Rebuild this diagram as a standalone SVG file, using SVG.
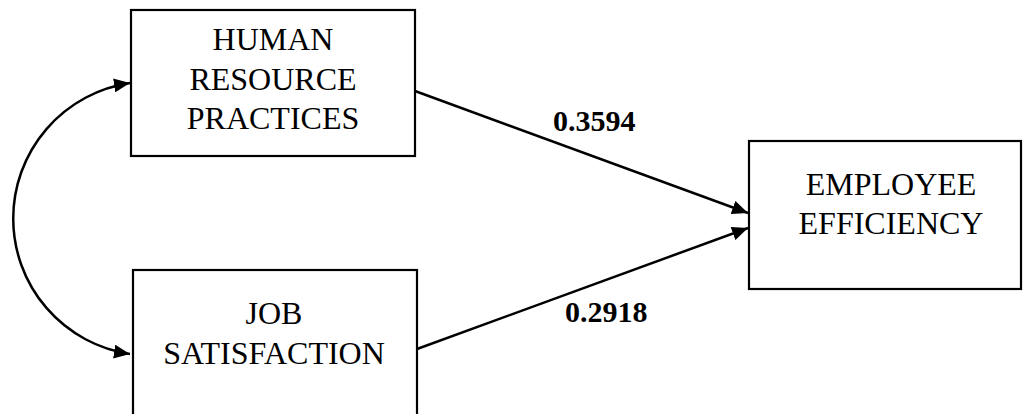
<svg xmlns="http://www.w3.org/2000/svg" width="1023" height="414" viewBox="0 0 1023 414">
  <style>
    .box { fill: #ffffff; stroke: #000000; stroke-width: 2.2; }
    .lbl { font-family: "Liberation Serif", "Times New Roman", serif; font-size: 32px; fill: #000000; text-anchor: middle; }
    .coef { font-family: "Liberation Serif", "Times New Roman", serif; font-size: 30px; font-weight: bold; fill: #000000; }
    .conn { fill: none; stroke: #000000; stroke-width: 2.5; }
  </style>
  <defs>
    <marker id="arrow" markerUnits="userSpaceOnUse" markerWidth="18" markerHeight="14" refX="16" refY="7" orient="auto-start-reverse">
      <path d="M0,0 L16,7 L0,14 z" fill="#000000"/>
    </marker>
  </defs>
  <rect width="1023" height="414" fill="#ffffff"/>

  <g id="connectors">
    <path class="conn" d="M130,83 A137,137 0 0 0 130,354" marker-start="url(#arrow)" marker-end="url(#arrow)"/>
    <line class="conn" x1="415" y1="91" x2="748" y2="213" marker-end="url(#arrow)"/>
    <line class="conn" x1="417" y1="349" x2="748" y2="228" marker-end="url(#arrow)"/>
    <text class="coef" x="553" y="131">0.3594</text>
    <text class="coef" x="565" y="322">0.2918</text>
  </g>

  <g id="node-hrp">
    <rect class="box" x="131" y="10" width="284" height="146"/>
    <text class="lbl" x="273" y="50">HUMAN</text>
    <text class="lbl" x="273" y="89.5">RESOURCE</text>
    <text class="lbl" x="273" y="128.5">PRACTICES</text>
  </g>

  <g id="node-js">
    <rect class="box" x="133" y="270" width="284" height="152"/>
    <text class="lbl" x="274" y="324">JOB</text>
    <text class="lbl" x="274" y="363.5">SATISFACTION</text>
  </g>

  <g id="node-ee">
    <rect class="box" x="749" y="141" width="272" height="148"/>
    <text class="lbl" x="891" y="194.5">EMPLOYEE</text>
    <text class="lbl" x="891" y="233.5">EFFICIENCY</text>
  </g>
</svg>
